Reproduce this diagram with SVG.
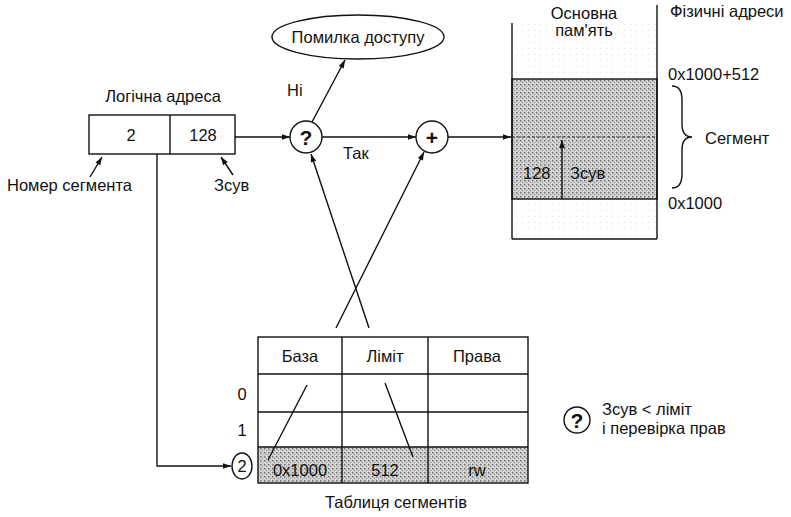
<svg xmlns="http://www.w3.org/2000/svg" width="791" height="517" viewBox="0 0 791 517">
<defs>
<style>
text{font-family:"Liberation Sans",Arial,sans-serif;font-size:16.5px;fill:#111}
.ln{stroke:#111;stroke-width:1.4;fill:none}
.box{stroke:#111;stroke-width:1.4;fill:#fff}
.m{text-anchor:middle}
.b{font-size:21px;font-weight:bold}
</style>
<marker id="ah" viewBox="0 0 10 10" refX="10" refY="5" markerWidth="11" markerHeight="8" orient="auto" markerUnits="userSpaceOnUse">
<path d="M0,1.5 L10,5 L0,8.5 z" fill="#111"/>
</marker>
<pattern id="dots" width="4" height="4" patternUnits="userSpaceOnUse">
<rect width="4" height="4" fill="#d0d0d0"/>
<rect x="0" y="0" width="1.5" height="1.5" fill="#777"/>
<rect x="2" y="2" width="1" height="1" fill="#999"/>
</pattern>
<pattern id="light" width="6" height="6" patternUnits="userSpaceOnUse">
<rect width="6" height="6" fill="#fff"/>
<rect x="0" y="0" width="1" height="1" fill="#ddd"/>
</pattern>
</defs>
<rect width="791" height="517" fill="#fff"/>

<g id="logical-address">
<text class="m" x="163" y="102">Логічна адреса</text>
<rect class="box" x="89" y="115" width="146" height="39"/>
<line class="ln" x1="170" y1="115" x2="170" y2="154"/>
<text class="m" x="131" y="141">2</text>
<text class="m" x="203" y="141">128</text>
<text x="7" y="191">Номер сегмента</text>
<text x="214" y="191">Зсув</text>
</g>

<g id="error">
<ellipse class="box" cx="358" cy="37" rx="86" ry="22"/>
<text class="m" x="358" y="43">Помилка доступу</text>
</g>

<g id="check">
<circle class="box" cx="306" cy="137" r="16"/>
<text class="m b" x="306" y="145">?</text>
</g>

<g id="adder">
<circle class="box" cx="432" cy="137" r="16"/>
<text class="m b" x="432" y="145">+</text>
</g>

<g id="memory">
<rect x="512" y="23" width="145" height="216" fill="url(#light)"/>
<rect x="512" y="79" width="145" height="120" fill="url(#dots)" stroke="#111" stroke-width="1.4"/>
<line class="ln" x1="512" y1="23" x2="512" y2="239"/>
<line class="ln" x1="657" y1="5" x2="657" y2="239"/>
<line class="ln" x1="512" y1="239" x2="657" y2="239"/>
<line x1="512" y1="137" x2="657" y2="137" stroke="#333" stroke-width="1.2" stroke-dasharray="3,2"/>
<text class="m" x="584" y="19">Основна</text>
<text class="m" x="584" y="36">пам'ять</text>
<text x="523" y="179">128</text>
<text x="570" y="179">Зсув</text>
<text x="670" y="17">Фізичні адреси</text>
<text x="668" y="80">0x1000+512</text>
<path class="ln" d="M672,86 Q682,86 682,100 L682,124 Q682,137 692,137 Q682,137 682,150 L682,174 Q682,188 672,188"/>
<text x="705" y="144">Сегмент</text>
<text x="668" y="209">0x1000</text>
</g>

<g id="segment-table">
<rect x="258" y="447" width="270" height="36" fill="url(#dots)"/>
<rect class="ln" x="258" y="337" width="270" height="146"/>
<line class="ln" x1="258" y1="374" x2="528" y2="374"/>
<line class="ln" x1="258" y1="412" x2="528" y2="412"/>
<line class="ln" x1="258" y1="447" x2="528" y2="447"/>
<line class="ln" x1="342" y1="337" x2="342" y2="483"/>
<line class="ln" x1="428" y1="337" x2="428" y2="483"/>
<text class="m" x="300" y="362">База</text>
<text class="m" x="385" y="362">Ліміт</text>
<text class="m" x="477" y="362">Права</text>
<text class="m" x="300" y="476">0x1000</text>
<text class="m" x="385" y="476">512</text>
<text class="m" x="477" y="476">rw</text>
<text class="m" x="242" y="400">0</text>
<text class="m" x="242" y="436">1</text>
<ellipse class="box" cx="242" cy="466" rx="10" ry="13"/>
<text class="m" x="242" y="472">2</text>
<text class="m" x="396" y="508">Таблиця сегментів</text>
</g>

<g id="legend">
<circle class="box" cx="577" cy="420" r="13"/>
<text class="m b" x="577" y="428">?</text>
<text x="602" y="415">Зсув &lt; ліміт</text>
<text x="602" y="434">і перевірка прав</text>
</g>

<g id="connectors">
<line class="ln" x1="235" y1="137" x2="290" y2="137" marker-end="url(#ah)"/>
<line class="ln" x1="322" y1="137" x2="416" y2="137" marker-end="url(#ah)"/>
<line class="ln" x1="448" y1="137" x2="511" y2="137" marker-end="url(#ah)"/>
<line class="ln" x1="312" y1="122" x2="345" y2="60" marker-end="url(#ah)"/>
<text x="287" y="96">Ні</text>
<text x="343" y="159">Так</text>
<line class="ln" x1="90" y1="177" x2="102" y2="157" marker-end="url(#ah)"/>
<line class="ln" x1="233" y1="175" x2="221" y2="157" marker-end="url(#ah)"/>
<polyline class="ln" points="157,154 157,466 231,466" marker-end="url(#ah)"/>
<line class="ln" x1="336" y1="328" x2="424" y2="152" marker-end="url(#ah)"/>
<line class="ln" x1="369" y1="328" x2="311" y2="154" marker-end="url(#ah)"/>
<line class="ln" x1="268" y1="460" x2="307" y2="385"/>
<line class="ln" x1="413" y1="457" x2="385" y2="383"/>
<line class="ln" x1="562" y1="199" x2="562" y2="140" marker-end="url(#ah)"/>
</g>
</svg>
